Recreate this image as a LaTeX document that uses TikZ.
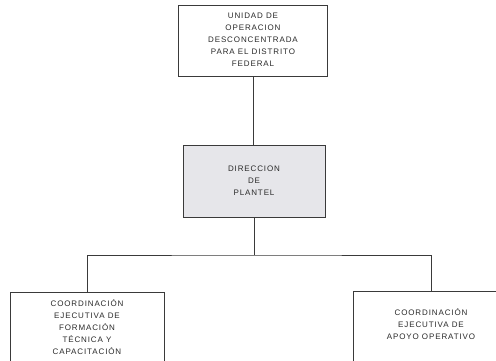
\documentclass[tikz,border=0pt]{standalone}
\usepackage{fontspec}
\setmainfont[LetterSpace=11]{Liberation Sans}
\definecolor{linec}{HTML}{3A3A3A}
\definecolor{midfill}{HTML}{E6E6EA}
\definecolor{txtc}{HTML}{2A2A2A}
\begin{document}
\begin{tikzpicture}[x=1pt,y=-1pt,
  box/.style={draw=linec,line width=0.9pt,inner sep=0pt},
  lbl/.style={font=\fontsize{8}{12}\selectfont,text=txtc,align=center,inner sep=0pt},
  conn/.style={draw=linec,line width=0.9pt}]
\useasboundingbox (0,0) rectangle (496,360);
\clip (0,0) rectangle (496,360);
\fill[white] (0,0) rectangle (496,360);
% boxes
\node[box,minimum width=149pt,minimum height=71pt] (top) at (253,40.5) {};
\node[box,fill=midfill,minimum width=142pt,minimum height=72pt] (mid) at (254,181) {};
\node[box,minimum width=154pt,minimum height=80pt,anchor=north] (left) at (87,292) {};
\node[box,minimum width=156pt,minimum height=80pt,anchor=north] (right) at (431,291) {};
% texts
\node[lbl] (ttop) at (253,40) {UNIDAD DE\\OPERACION\\DESCONCENTRADA\\PARA EL DISTRITO\\FEDERAL};
\node[lbl] (tmid) at (254,181) {DIRECCION\\DE\\PLANTEL};
\node[lbl] (tleft) at (87,327) {COORDINACIÓN\\EJECUTIVA DE\\FORMACIÓN\\TÉCNICA Y\\CAPACITACIÓN};
\node[lbl] (tright) at (431,324) {COORDINACIÓN\\EJECUTIVA DE\\APOYO OPERATIVO};
% connectors
\coordinate (j) at (254,255);
\draw[conn] (top.south) -- (top.south |- mid.north);
\draw[conn] (mid.south) -- (j);
\draw[conn] (left.north) |- (j) -| (right.north);
\end{tikzpicture}
\end{document}
